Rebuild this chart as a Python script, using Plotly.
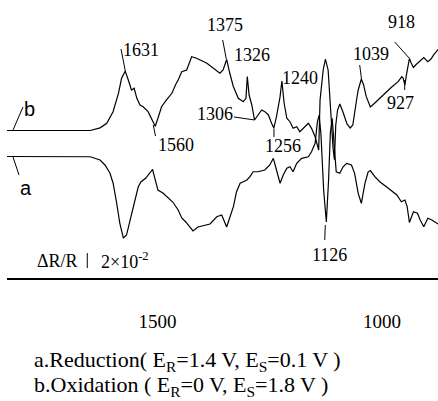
import plotly.graph_objects as go

# ---- data (wavenumber / cm-1, dR/R in units of 1e-2) ----
wn_b = [1835, 1717, 1650, 1628, 1613, 1599, 1587, 1580, 1572, 1565, 1558, 1552, 1546, 1539, 1532,
        1521, 1513, 1505, 1498, 1491, 1480, 1468, 1459, 1454, 1446, 1435, 1424, 1413, 1390, 1376,
        1361, 1354, 1346, 1339, 1331, 1320, 1309, 1303, 1300, 1296, 1290, 1284, 1276, 1268, 1261,
        1253, 1246, 1241, 1235, 1227, 1223, 1218, 1212, 1205, 1198, 1190, 1183, 1172, 1164, 1157,
        1149, 1141, 1138, 1131, 1126, 1120, 1114, 1109, 1106, 1103, 1099, 1094, 1087, 1078, 1071,
        1065, 1056, 1053, 1046, 1041, 1035, 1026, 1016, 1005, 994, 979, 964, 956, 953, 949,
        946, 942, 939, 935, 930, 924, 915, 907, 898, 891, 885, 875]
dR_b = [0, 0, 0, 0.35, 0.96, 2.51, 4.96, 6.96, 7.91, 6.73, 5.40, 5.63, 4.29, 3.40, 3.17,
        2.51, 1.63, 0.56, 1.84, 3.17, 4.07, 4.96, 6.2, 6.73, 7.84, 8.07, 9.84, 9.63, 8.96, 8.29,
        7.63, 8.07, 9.47, 7.63, 5.84, 4.29, 3.84, 4.29, 7.2, 4.73, 3.40, 1.40, 2.07, 2.73, 2.51,
        2.07, 0.96, 0.33, 1.84, 4.51, 6.6, 3.63, 1.63, 1.17, 0.29, 0.51, -0.16, 0.51, 0.96, 0.29,
        -0.83, -2.6, 4.07, 8.07, 9.53, 8.07, 1.84, -2.4, -3.9, 0.73, 2.73, 3.53, 2.47, 0.87, 0.33,
        0.73, 4.33, 5.4, 6.87, 6.07, 4.51, 3.13, 3.67, 4.29, 4.96, 5.76, 6.51, 7.17, 7.0, 6.07,
        7.27, 8.87, 9.6, 9.0, 8.4, 8.8, 9.27, 9.73, 9.17, 9.53, 10.07, 10.8]

wn_a = [1835, 1717, 1650, 1628, 1617, 1606, 1599, 1591, 1584, 1576, 1569, 1561, 1554, 1543, 1537,
        1526, 1517, 1511, 1506, 1499, 1488, 1477, 1466, 1454, 1446, 1437, 1421, 1410, 1399, 1383,
        1368, 1357, 1346, 1339, 1331, 1324, 1316, 1309, 1301, 1294, 1287, 1276, 1261, 1250, 1242,
        1235, 1227, 1220, 1212, 1205, 1198, 1190, 1179, 1164, 1157, 1149, 1144, 1140, 1136, 1130,
        1124, 1119, 1115, 1111, 1107, 1102, 1094, 1087, 1079, 1068, 1061, 1053, 1046, 1038, 1031,
        1026, 1016, 1005, 986, 967, 957, 949, 944, 939, 930, 921, 915, 907, 898, 889, 875]
dR_a = [0, 0, -0.03, -0.47, -1.13, -2.2, -3.53, -6.2, -8.87, -10.87, -10.47, -8.47, -6.73, -4.07, -3.4,
        -2.87, -2.2, -1.73, -2.87, -4.47, -4.87, -5.53, -6.07, -7.13, -8.2, -8.73, -9.93, -9.4, -9.27, -9.0,
        -8.03, -7.8, -9.4, -8.03, -6.69, -4.69, -3.57, -3.36, -3.13, -2.69, -2.03, -2.03, -1.8, -1.13, -0.24,
        -1.8, -3.57, -2.47, -1.57, -1.36, -2.03, -0.91, -0.24, -0.03, 0.64, 1.76, 4.6, 5.5, 3.0, -4.47,
        -8.73, -3.13, 3.2, 5.1, 2.4, -2.03, -2.24, -1.4, -0.91, -1.13, -2.24, -4.91, -6.24, -3.57, -2.07,
        -1.87, -2.69, -3.36, -4.24, -5.13, -6.03, -5.8, -6.69, -8.8, -7.36, -7.57, -8.47, -9.36, -8.24, -8.47, -9.0]

tick_vals = [1500, 1000]
tick_text = ["1500", "1000"]

# peak labels: text, wavenumber position, vertical position (plot units)
peak_text = ["1631", "1560", "1375", "1326", "1306", "1240", "1256", "1126", "1039", "918", "927"]
peak_x = [1536.8, 1458.8, 1350.8, 1289.5, 1372.0, 1182.6, 1221.6, 1116.5, 1025.0, 955.5, 959.9]
peak_y = [30.4, 17.8, 33.8, 29.73, 21.87, 26.67, 17.6, 3.07, 29.87, 34.13, 23.4]

# leader lines x0, y0, x1, y1
leaders = [
    (1581.3, 30.53, 1571.3, 27.47),
    (1509.4, 20.4, 1504.5, 18.93),
    (1354.8, 31.73, 1346.8, 29.2),
    (1329.6, 21.47, 1284.0, 21.07),
    (1240.6, 19.93, 1240.6, 18.8),
    (1126.3, 7.07, 1127.6, 5.07),
    (1049.7, 28.4, 1045.7, 26.53),
    (971.7, 31.47, 938.8, 29.27),
    (949.5, 26.4, 949.5, 25.07),
    (1821.8, 16.13, 1808.5, 13.73),
    (1821.8, 19.73, 1799.6, 22.8),
]

offset_b = 19.667
offset_a = 16.2

SERIF = "Liberation Serif"
SANS = "Liberation Sans"

fig = go.Figure()
fig.add_trace(go.Scatter(x=wn_b, y=[v + offset_b for v in dR_b], mode="lines",
                         line=dict(color="black", width=1.2), hoverinfo="skip"))
fig.add_trace(go.Scatter(x=wn_a, y=[v + offset_a for v in dR_a], mode="lines",
                         line=dict(color="black", width=1.2), hoverinfo="skip"))

ann = []
for t, x, y in zip(peak_text, peak_x, peak_y):
    ann.append(dict(x=x, y=y, xref="x", yref="y", text=t, showarrow=False,
                    font=dict(family=SERIF, size=18, color="black")))
ann.append(dict(x=1792.9, y=12.0, text="a", showarrow=False,
                font=dict(family=SANS, size=20, color="black")))
ann.append(dict(x=1786.2, y=22.53, text="b", showarrow=False,
                font=dict(family=SANS, size=20, color="black")))
ann.append(dict(x=1722.7, y=2.29, text="ΔR/R", showarrow=False,
                font=dict(family=SERIF, size=18, color="black")))
ann.append(dict(x=1630.3, y=2.27, text="2×10<sup>-2</sup>", showarrow=False, xanchor="left",
                font=dict(family=SERIF, size=18, color="black")))
ann.append(dict(x=0.058, y=-0.297, xref="paper", yref="paper", xanchor="left", yanchor="middle",
                text="a.Reduction( E<sub>R</sub>=1.4 V, E<sub>S</sub>=0.1 V )", showarrow=False,
                font=dict(family=SERIF, size=22, color="black")))
ann.append(dict(x=0.058, y=-0.388, xref="paper", yref="paper", xanchor="left", yanchor="middle",
                text="b.Oxidation ( E<sub>R</sub>=0 V, E<sub>S</sub>=1.8 V )", showarrow=False,
                font=dict(family=SERIF, size=22, color="black")))

shapes = []
for x0, y0, x1, y1 in leaders:
    shapes.append(dict(type="line", x0=x0, y0=y0, x1=x1, y1=y1, xref="x", yref="y",
                       line=dict(color="black", width=1)))
# scale bar (2 units = 2e-2)
shapes.append(dict(type="line", x0=1656.4, x1=1656.4, y0=1.33, y1=3.33, xref="x", yref="y",
                   line=dict(color="black", width=1)))

fig.update_layout(
    width=438, height=401,
    margin=dict(l=7, r=0, t=0, b=123, pad=0),
    paper_bgcolor="white", plot_bgcolor="white",
    showlegend=False,
    annotations=ann, shapes=shapes,
    xaxis=dict(range=[1835.2, 875.3], showgrid=False, zeroline=False, showline=True,
               linecolor="black", linewidth=2, ticks="", tickvals=tick_vals, ticktext=tick_text,
               tickfont=dict(family=SERIF, size=19, color="black"), ticklabelstandoff=25),
    yaxis=dict(range=[0, 37.067], visible=False, showgrid=False, zeroline=False),
)

fig.write_html("out.html")
